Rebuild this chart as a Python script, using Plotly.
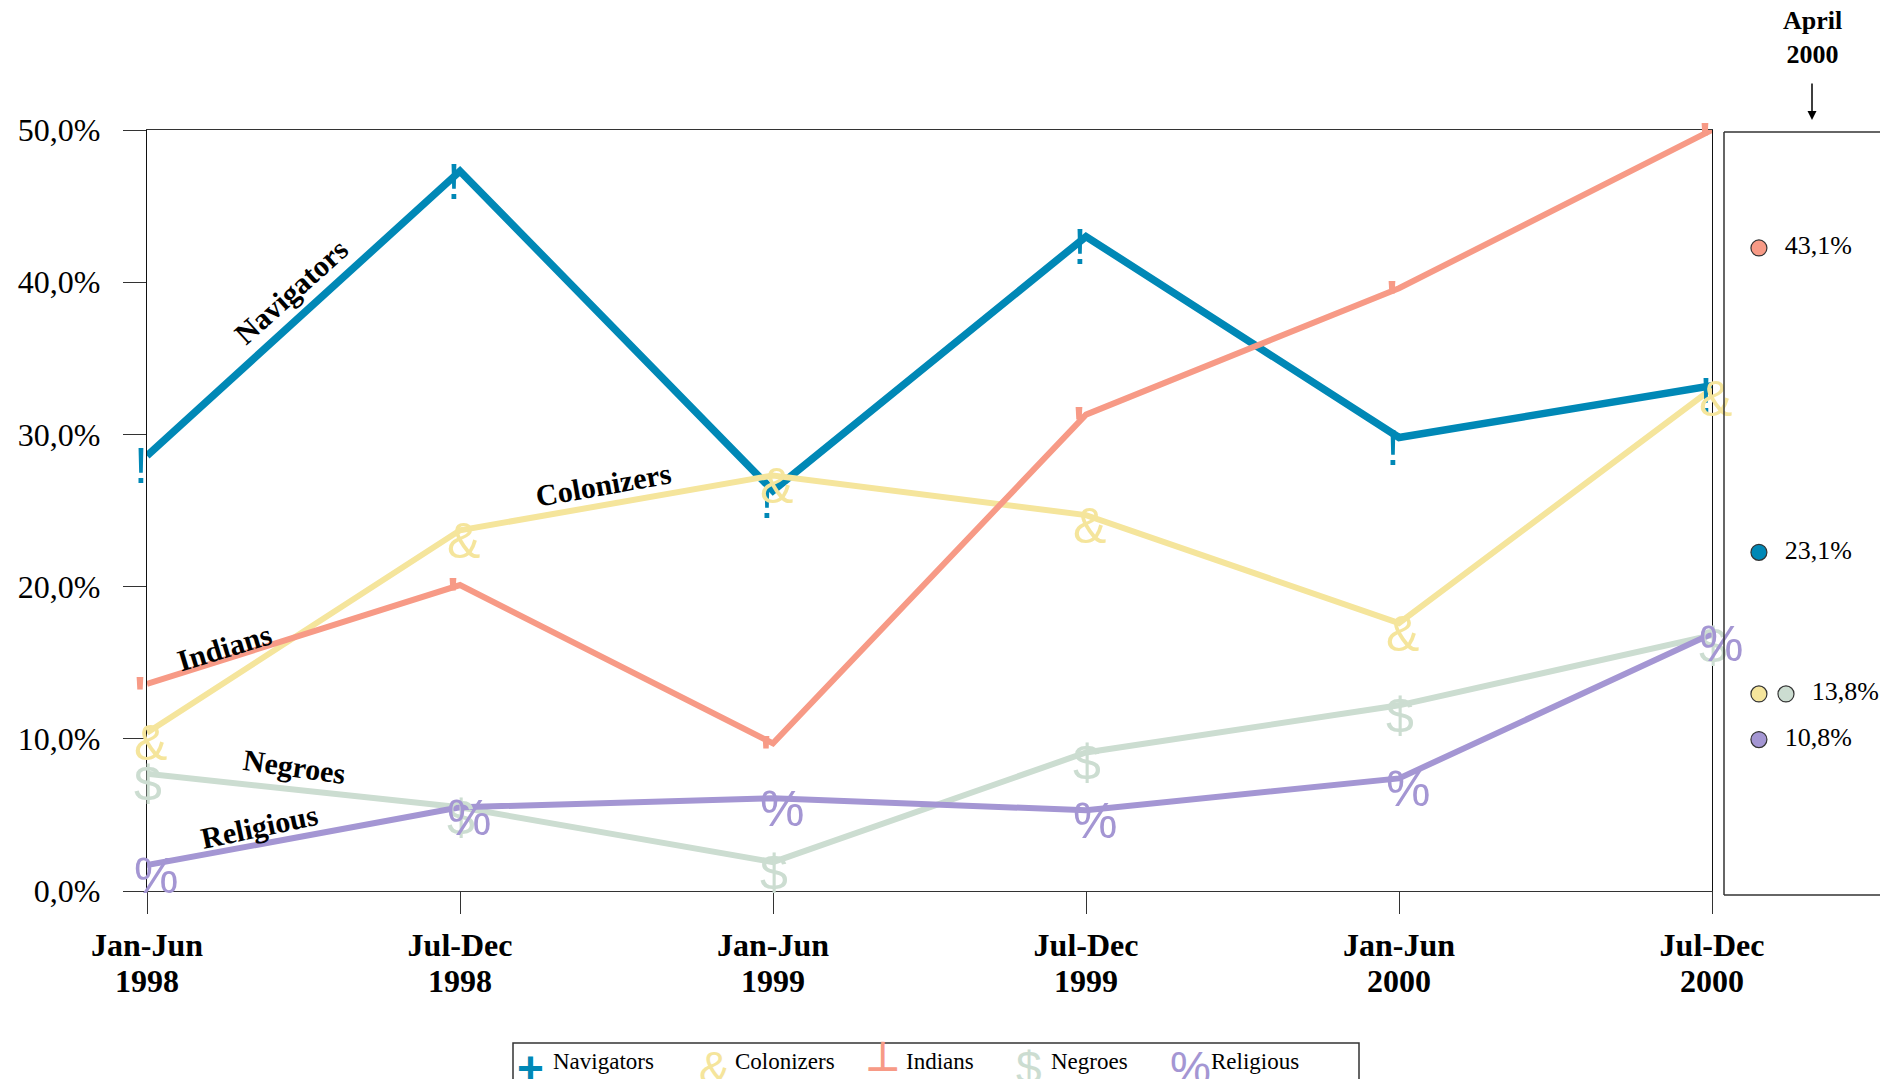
import plotly.graph_objects as go

# ---------------- data ----------------
period_half = ["Jan-Jun", "Jul-Dec", "Jan-Jun", "Jul-Dec", "Jan-Jun", "Jul-Dec"]
period_year = ["1998", "1998", "1999", "1999", "2000", "2000"]
x_idx = [0, 1, 2, 3, 4, 5]

navigators = [28.6, 47.3, 26.3, 43.0, 29.8, 33.2]
colonizers = [10.4, 23.7, 27.3, 24.7, 17.6, 33.0]
indians = [13.6, 20.1, 9.7, 31.3, 39.6, 50.0]
negroes = [7.7, 5.5, 1.9, 9.1, 12.2, 16.8]
religious = [1.7, 5.5, 6.1, 5.3, 7.4, 16.9]

series_names = ["Navigators", "Colonizers", "Indians", "Negroes", "Religious"]
series_values = [navigators, colonizers, indians, negroes, religious]
series_colors = ["#0088b6", "#f5e59c", "#f79a86", "#ccddd1", "#a496d3"]
series_glyphs = ["!", "&", "'", "$", "%"]
legend_glyphs = ["+", "&", "┴", "$", "%"]

y_tickvals = [0, 10, 20, 30, 40, 50]
y_ticktext = ["0,0%", "10,0%", "20,0%", "30,0%", "40,0%", "50,0%"]

# April 2000 snapshot
april_values = [43.1, 23.1, 13.8, 13.8, 10.8]
april_colors = ["#f79a86", "#0088b6", "#f5e59c", "#ccddd1", "#a496d3"]
april_dot_x = [0.213, 0.213, 0.213, 0.378, 0.213]
april_labels = ["43,1%", "23,1%", "13,8%", "10,8%"]
april_label_vals = [43.1, 23.1, 13.8, 10.8]
april_label_x = [0.37, 0.37, 0.535, 0.37]

# line labels: (text, x, y, angle)
line_labels = [
    ("Navigators", 0.46, 39.4, -42),
    ("Colonizers", 1.46, 26.7, -10),
    ("Indians", 0.246, 16.0, -17),
    ("Negroes", 0.47, 8.15, 8),
    ("Religious", 0.358, 4.27, -12),
]

# the page body has an 8px margin; the figure is sized to fill the rest
OFF = 8
W, H = 1888 - OFF, 1079 - OFF
SERIF = "Liberation Serif"
SANS = "Liberation Sans"


def fx(p):  # screen x pixel -> paper fraction
    return (p - OFF) / W


def fy(p):  # screen y pixel -> paper fraction
    return 1 - (p - OFF) / H


fig = go.Figure()

# lines
for name, vals, col in zip(series_names, series_values, series_colors):
    fig.add_trace(go.Scatter(
        x=x_idx, y=vals, mode="lines", name=name,
        line=dict(color=col, width=7.5 if name == "Navigators" else 6),
        showlegend=False, cliponaxis=False, hoverinfo="skip",
        xaxis="x", yaxis="y"))

# invisible carrier so the year tick row (xaxis4) is drawn
fig.add_trace(go.Scatter(x=x_idx, y=[None] * len(x_idx), mode="lines",
                         showlegend=False, hoverinfo="skip", xaxis="x4", yaxis="y"))

# glyph markers (same-scale axes, glyph set just right/below of each point)
for name, vals, col, g in zip(series_names, series_values, series_colors, series_glyphs):
    fig.add_trace(go.Scatter(
        x=x_idx, y=vals, mode="text", text=g, name=name,
        textposition="middle right",
        textfont=dict(family=SANS, size=50, color=col,
                      weight="bold" if name == "Indians" else "normal"),
        showlegend=False, cliponaxis=False, hoverinfo="skip",
        xaxis="x3", yaxis="y3"))

# April 2000 panel dots
fig.add_trace(go.Scatter(
    x=april_dot_x, y=april_values, mode="markers",
    marker=dict(size=16, color=april_colors, line=dict(color="#333333", width=1.2)),
    showlegend=False, cliponaxis=False, hoverinfo="skip",
    xaxis="x2", yaxis="y2"))
fig.add_trace(go.Scatter(
    x=april_label_x, y=april_label_vals, mode="text", text=april_labels,
    textposition="middle right",
    textfont=dict(family=SERIF, size=26, color="black"),
    showlegend=False, cliponaxis=False, hoverinfo="skip",
    xaxis="x2", yaxis="y2"))

x_dom = [fx(147), fx(1712)]
y_dom = [fy(891), fy(130)]
ppx = (1712 - 147) / 5
ppy = (891 - 130) / 50
gx_shift = 13 / ppx
gy_shift = 15 / ppy
PAD = 40  # extra pixels around glyph axes so edge glyphs stay in range

fig.update_layout(
    width=W, height=H, autosize=False,
    margin=dict(l=0, r=0, t=0, b=0, autoexpand=False),
    paper_bgcolor="white", plot_bgcolor="rgba(0,0,0,0)",
    showlegend=False,
    font=dict(family=SERIF, color="black"),
    xaxis=dict(
        domain=x_dom, range=[0, 5], tickvals=x_idx, automargin=False,
        ticktext=["<b>" + p + "</b>" for p in period_half],
        tickfont=dict(family=SERIF, size=32, color="black"),
        ticks="outside", ticklen=22, tickcolor="#333333", tickwidth=1.2,
        showline=True, linecolor="#333333", linewidth=1.2, mirror=True,
        showgrid=False, zeroline=False, ticklabelstandoff=3,
    ),
    xaxis4=dict(
        overlaying="x", anchor="y", side="bottom", range=[0, 5], tickvals=x_idx,
        ticktext=["<b>" + p + "</b>" for p in period_year], automargin=False,
        tickfont=dict(family=SERIF, size=32, color="black"),
        ticks="", showline=False, showgrid=False, zeroline=False,
        ticklabelstandoff=68,
    ),
    yaxis=dict(
        domain=y_dom, range=[0, 50], tickvals=y_tickvals, ticktext=y_ticktext,
        automargin=False,
        tickfont=dict(family=SERIF, size=32, color="black"),
        ticks="outside", ticklen=23, tickcolor="#333333", tickwidth=1.2,
        showline=True, linecolor="#111111", linewidth=1.2, mirror=True,
        showgrid=False, zeroline=False, ticklabelstandoff=16,
    ),
    xaxis3=dict(domain=[fx(147 - PAD), fx(1712 + PAD)],
                range=[gx_shift - PAD / ppx, 5 + gx_shift + PAD / ppx],
                anchor="y3", visible=False, automargin=False),
    yaxis3=dict(domain=[fy(891 + PAD), fy(130 - PAD)],
                range=[gy_shift - PAD / ppy, 50 + gy_shift + PAD / ppy],
                anchor="x3", visible=False, automargin=False),
    xaxis2=dict(domain=[fx(1724), 1.0], range=[0, (W - (1724 - OFF)) / (1888 - 1724)],
                visible=False, automargin=False, anchor="y2"),
    yaxis2=dict(domain=y_dom, range=[0.85, 50.85], visible=False, anchor="x2",
                automargin=False),
)

# panel border (left, top, bottom)
px0 = fx(1724)
pyt = fy(132)
pyb = fy(895)
for (x0, y0, x1, y1) in [(px0, pyb, px0, pyt), (px0, pyt, 1.01, pyt), (px0, pyb, 1.01, pyb)]:
    fig.add_shape(type="line", xref="paper", yref="paper", x0=x0, y0=y0, x1=x1, y1=y1,
                  line=dict(color="#333333", width=1.5))

# April 2000 header + arrow
fig.add_annotation(xref="paper", yref="paper", x=fx(1812), y=fy(37),
                   text="<b>April<br>2000</b>", showarrow=False,
                   font=dict(family=SERIF, size=26, color="black"),
                   xanchor="center", yanchor="middle")
fig.add_annotation(xref="paper", yref="paper", x=fx(1812), y=fy(120),
                   ax=0, ay=-38, text="", showarrow=True, arrowhead=2,
                   arrowsize=1.2, arrowwidth=1.5, arrowcolor="black")

# line labels
for txt, lx, ly, ang in line_labels:
    fig.add_annotation(x=lx, y=ly, xref="x", yref="y", text="<b>" + txt + "</b>",
                       showarrow=False, textangle=ang,
                       font=dict(family=SERIF, size=30, color="black"),
                       xanchor="center", yanchor="middle")

# legend box
fig.add_shape(type="rect", xref="paper", yref="paper",
              x0=fx(513), x1=fx(1359), y0=-0.05, y1=fy(1043),
              line=dict(color="#333333", width=1.5), fillcolor="white", layer="below")
leg_glyph_x = [530, 714, 883, 1029, 1190]
leg_text_x = [551, 733, 904, 1049, 1209]
for g, col, name, gx, tx in zip(legend_glyphs, series_colors, series_names, leg_glyph_x, leg_text_x):
    fig.add_annotation(xref="paper", yref="paper", x=fx(gx), y=fy(1068), text=g,
                       showarrow=False, xanchor="center", yanchor="middle",
                       font=dict(family=SANS if g != "┴" else "DejaVu Sans", size=46,
                                 color=col, weight="bold" if g in "+┴" else "normal"))
    fig.add_annotation(xref="paper", yref="paper", x=fx(tx), y=fy(1061), text=name,
                       showarrow=False, xanchor="left", yanchor="middle",
                       font=dict(family=SERIF, size=23, color="black"))

fig.write_html("out.html")
